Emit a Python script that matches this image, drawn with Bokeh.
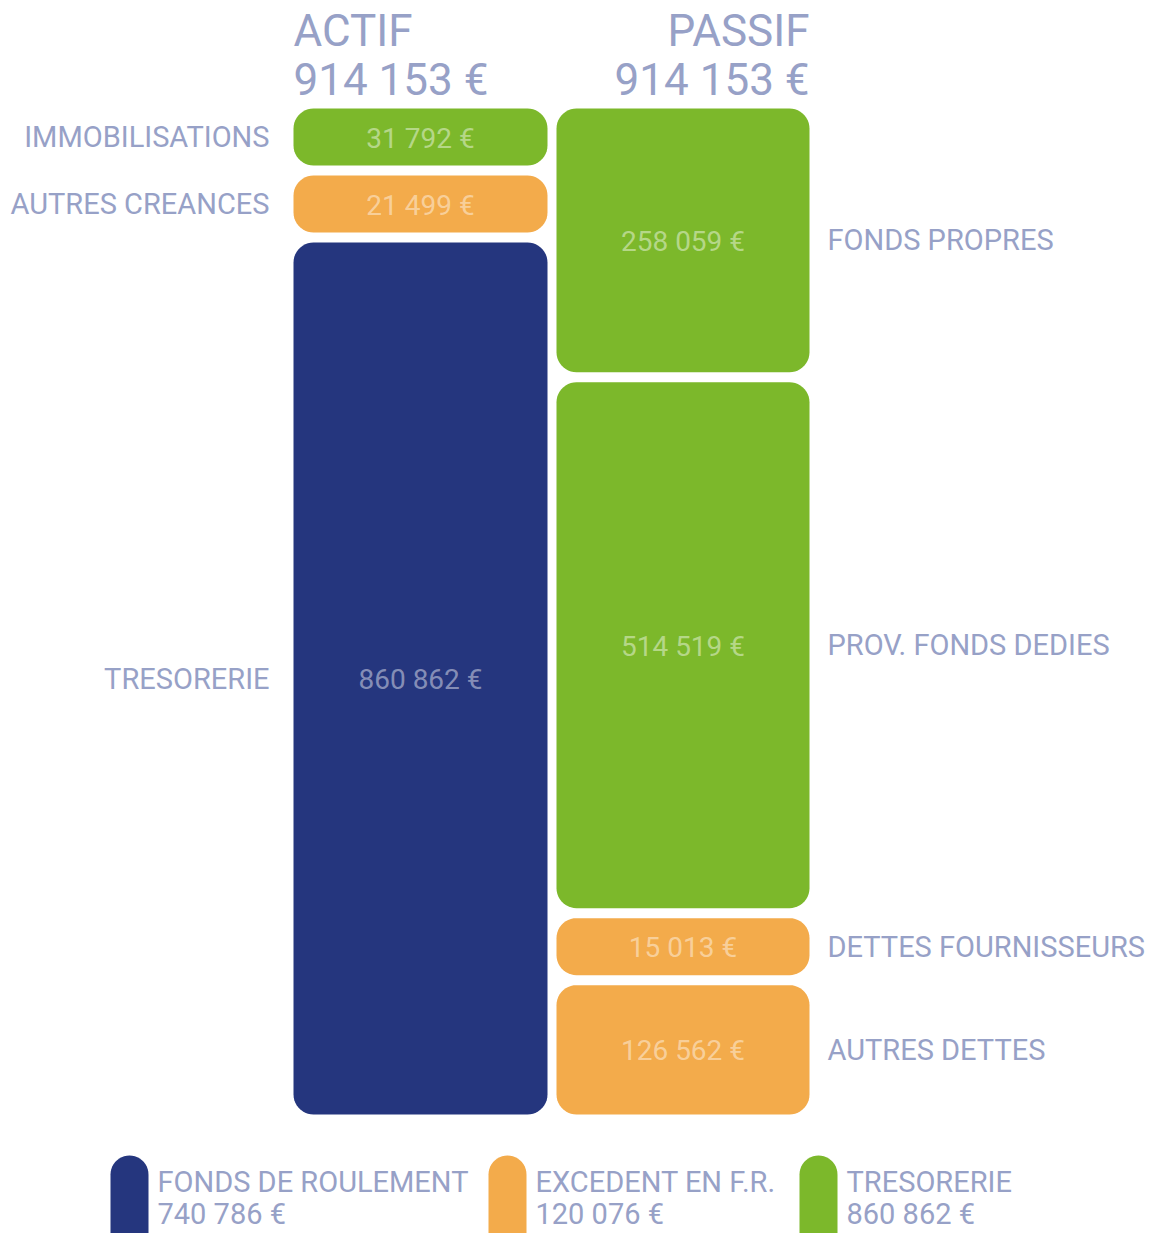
from bokeh.plotting import figure
from bokeh.models import Range1d, ColumnDataSource
from bokeh.core.properties import value
from bokeh.embed import file_html
from bokeh.resources import INLINE
import numpy as np

# ---------------- data ----------------
actif_title = "ACTIF"
passif_title = "PASSIF"
total_actif = 914153
total_passif = 914153

actif_labels = ["IMMOBILISATIONS", "AUTRES CREANCES", "TRESORERIE"]
actif_values = [31792, 21499, 860862]
actif_kinds = ["green", "orange", "blue"]

passif_labels = ["FONDS PROPRES", "PROV. FONDS DEDIES", "DETTES FOURNISSEURS", "AUTRES DETTES"]
passif_values = [258059, 514519, 15013, 126562]
passif_kinds = ["green", "green", "orange", "orange"]

legend_labels = ["FONDS DE ROULEMENT", "EXCEDENT EN F.R.", "TRESORERIE"]
legend_values = [740786, 120076, 860862]
legend_kinds = ["blue", "orange", "green"]

# ---------------- style ----------------
COLORS = {"green": "#7cb82b", "orange": "#f3ab4b", "blue": "#25367e"}
LABEL_COLOR = "#97a1c7"
FONT = "Roboto"
W, H = 1151, 1233
TOP, BOTTOM = 108, 1114
GAP = 10
MIN_H = 57
RADIUS = 20
COL_X = {"actif": (293, 547), "passif": (556, 809)}


def fmt(v):
    return f"{v:,}".replace(",", " ") + " €"


def layout(values):
    """Block heights proportional to values, with a minimum height."""
    avail = (BOTTOM - TOP) - GAP * (len(values) - 1)
    vals = np.array(values, dtype=float)
    small = (vals / vals.sum() * avail) < MIN_H
    for _ in range(len(values)):
        heights = np.where(small, float(MIN_H), 0.0)
        rest = avail - heights.sum()
        big = ~small
        heights[big] = vals[big] / vals[big].sum() * rest
        grown = small | (heights < MIN_H - 1e-9)
        if (grown == small).all():
            break
        small = grown
    tops, bots = [], []
    y = TOP
    for h in heights:
        tops.append(y)
        bots.append(y + h)
        y += h + GAP
    return tops, bots


def rounded(x0, x1, y0, y1, r, n=12):
    r = min(r, (x1 - x0) / 2, (y1 - y0) / 2)
    xs, ys = [], []
    corners = [(x1 - r, y0 + r, -np.pi / 2, 0),
               (x1 - r, y1 - r, 0, np.pi / 2),
               (x0 + r, y1 - r, np.pi / 2, np.pi),
               (x0 + r, y0 + r, np.pi, 1.5 * np.pi)]
    for cx, cy, a0, a1 in corners:
        t = np.linspace(a0, a1, n)
        xs.extend((cx + r * np.cos(t)).tolist())
        ys.extend((cy + r * np.sin(t)).tolist())
    return xs, ys


p = figure(width=W, height=H, x_range=Range1d(0, W), y_range=Range1d(H, 0),
           output_backend="svg", toolbar_location=None, min_border=0)
p.axis.visible = False
p.grid.visible = False
p.outline_line_color = None
p.background_fill_color = "white"
p.border_fill_color = "white"

bxs, bys, bcols = [], [], []
val_x, val_y, val_t = [], [], []
lab_x, lab_y, lab_t, lab_align = [], [], [], []

for col, labels, values, kinds, side in [
        ("actif", actif_labels, actif_values, actif_kinds, "left"),
        ("passif", passif_labels, passif_values, passif_kinds, "right")]:
    x0, x1 = COL_X[col]
    tops, bots = layout(values)
    for lab, v, k, t, b in zip(labels, values, kinds, tops, bots):
        xs, ys = rounded(x0, x1, t, b, RADIUS)
        bxs.append(xs); bys.append(ys); bcols.append(COLORS[k])
        val_x.append((x0 + x1) / 2); val_y.append((t + b) / 2 + 1); val_t.append(fmt(v))
        if side == "left":
            lab_x.append(x0 - 24); lab_align.append("right")
        else:
            lab_x.append(x1 + 18); lab_align.append("left")
        lab_y.append((t + b) / 2); lab_t.append(lab)

p.patches(xs="xs", ys="ys", fill_color="c", line_color=None,
          source=ColumnDataSource(dict(xs=bxs, ys=bys, c=bcols)))

p.text(x="x", y="y", text="t", source=ColumnDataSource(dict(x=val_x, y=val_y, t=val_t)),
       text_font=value(FONT), text_font_size="28px", text_color="white", text_alpha=0.45,
       text_align="center", text_baseline="middle")

p.text(x="x", y="y", text="t", text_align="a",
       source=ColumnDataSource(dict(x=lab_x, y=lab_y, t=lab_t, a=lab_align)),
       text_font=value(FONT), text_font_size="29px", text_color=LABEL_COLOR,
       text_baseline="middle")

# titles
title_src = ColumnDataSource(dict(
    x=[COL_X["actif"][0], COL_X["actif"][0], COL_X["passif"][1], COL_X["passif"][1]],
    y=[30, 79, 30, 79],
    t=[actif_title, fmt(total_actif), passif_title, fmt(total_passif)],
    a=["left", "left", "right", "right"]))
p.text(x="x", y="y", text="t", text_align="a", source=title_src,
       text_font=value(FONT), text_font_size="44px", text_color=LABEL_COLOR,
       text_baseline="middle")

# legend
leg_pill_x = [110, 488, 799]
PILL_W = 38
lxs, lys, lcols = [], [], []
lt_x, lt_y, lt_t = [], [], []
for px, lab, v, k in zip(leg_pill_x, legend_labels, legend_values, legend_kinds):
    xs, ys = rounded(px, px + PILL_W, 1155, 1300, PILL_W / 2)
    lxs.append(xs); lys.append(ys); lcols.append(COLORS[k])
    lt_x += [px + PILL_W + 9, px + PILL_W + 9]
    lt_y += [1181, 1213]
    lt_t += [lab, fmt(v)]
p.patches(xs="xs", ys="ys", fill_color="c", line_color=None,
          source=ColumnDataSource(dict(xs=lxs, ys=lys, c=lcols)))
p.text(x="x", y="y", text="t", source=ColumnDataSource(dict(x=lt_x, y=lt_y, t=lt_t)),
       text_font=value(FONT), text_font_size="29px", text_color=LABEL_COLOR,
       text_align="left", text_baseline="middle")

open("out.html", "w").write(file_html(p, INLINE))
